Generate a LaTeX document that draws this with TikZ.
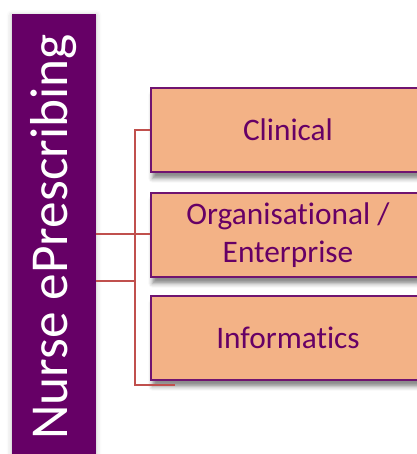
\documentclass[tikz,border=0pt]{standalone}
\usepackage{fontspec}
\setmainfont[Ligatures=NoCommon]{Carlito}
\usetikzlibrary{shadows.blur}
\definecolor{barpurple}{RGB}{102,0,102}
\definecolor{boxfill}{RGB}{243,178,134}
\definecolor{boxline}{RGB}{112,20,112}
\definecolor{connred}{RGB}{192,80,77}
\tikzset{
  barbox/.style={draw=none, fill=barpurple, rotate=90, minimum width=334.5pt, minimum height=63pt, inner sep=0pt,
    text=white, font=\fontsize{40}{48}\selectfont, blur shadow={shadow xshift=0pt, shadow yshift=-1pt, shadow blur radius=4pt, shadow opacity=25}},
  catbox/.style={draw=boxline, line width=1.5pt, fill=boxfill, minimum width=205.5pt, minimum height=63pt, inner sep=0pt,
    align=center, text=barpurple, font=\fontsize{23.5}{29}\selectfont,
    blur shadow={shadow xshift=1pt, shadow yshift=-5pt, shadow blur radius=3pt, shadow opacity=45}},
  conn/.style={draw=connred, line width=1.5pt}
}
\begin{document}
\begin{tikzpicture}[x=0.75pt,y=-0.75pt]
\useasboundingbox (0,0) rectangle (417,454);
\node[barbox] (root) at (54,237) {Nurse ePrescribing};
\node[catbox] (box1) at (288,130) {Clinical};
\node[catbox] (box2) at (288,235) {Organisational /\\Enterprise};
\node[catbox] (box3) at (288,338) {Informatics};
\coordinate (tTop) at (135,130);
\coordinate (tMid) at (135,281);
\coordinate (tBot) at (135,385);
\coordinate (tEnd) at (175,385);
\draw[conn] (root.south |- 0,234) -- (box2.west |- 0,234);
\draw[conn] (root.south |- tMid) -- (tMid);
\draw[conn] (box1.west) -- (tTop) -- (tBot) -- (tEnd);
\end{tikzpicture}
\end{document}
